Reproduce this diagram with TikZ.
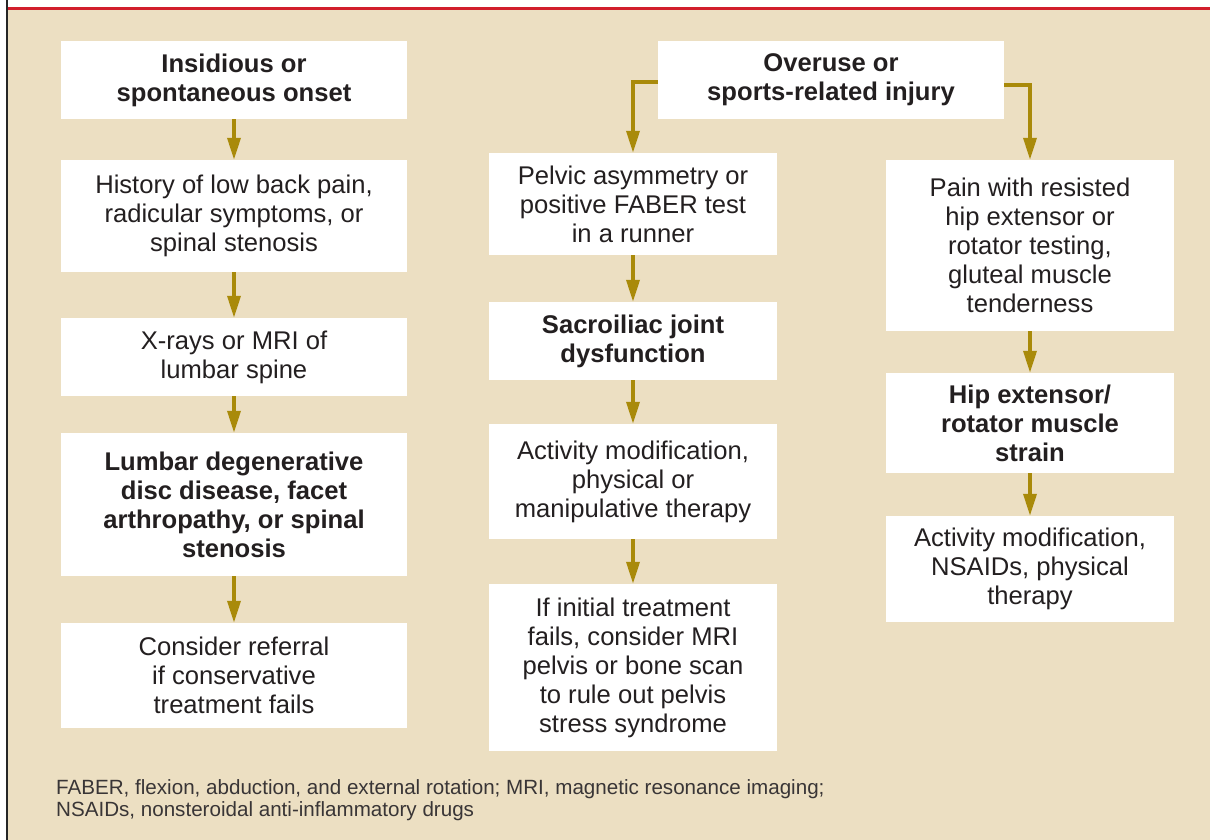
\documentclass[tikz,border=0pt]{standalone}
\usepackage{fontspec}
\setmainfont{Liberation Sans}
\usetikzlibrary{arrows.meta}
\definecolor{beige}{HTML}{ECDFC2}
\definecolor{gold}{HTML}{A98A0A}
\definecolor{redline}{HTML}{D21F2C}
\definecolor{ink}{HTML}{231F20}
\begin{document}
\begin{tikzpicture}[x=1pt,y=-1pt,
  box/.style={fill=white, draw=none, inner sep=0pt, align=center, text=ink,
    font=\fontsize{25.6}{29}\selectfont},
  bbox/.style={box, font=\fontsize{25.6}{29}\selectfont\bfseries},
  lcol/.style={minimum width=346pt},
  ncol/.style={minimum width=288pt},
  arr/.style={draw=gold, line width=3.5pt, -{Triangle[length=22pt,width=13pt]}}]
\useasboundingbox (0,0) rectangle (1210,840);
\fill[white] (0,0) rectangle (1210,840);
\fill[beige] (8,10) rectangle (1210,840);
\fill[redline] (8,7) rectangle (1210,10.5);
\fill[black!85] (5.5,0) rectangle (8,840);

% left column
\node[bbox, lcol, minimum height=78pt] (b1) at (234,80) {Insidious or\\spontaneous onset};
\node[box, lcol, minimum height=112pt] (b2) at (234,216) {History of low back pain,\\radicular symptoms, or\\spinal stenosis};
\node[box, lcol, minimum height=78pt] (b3) at (234,357) {X-rays or MRI of\\lumbar spine};
\node[bbox, lcol, minimum height=143pt] (b4) at (234,504.5) {Lumbar degenerative\\disc disease, facet\\arthropathy, or spinal\\stenosis};
\node[box, lcol, minimum height=105pt] (b5) at (234,675.5) {Consider referral\\if conservative\\treatment fails};

% top right
\node[bbox, lcol, minimum height=78pt] (o) at (831,80) {Overuse or\\sports-related injury};

% middle column
\node[box, ncol, minimum height=102pt] (m1) at (633,204) {Pelvic asymmetry or\\positive FABER test\\in a runner};
\node[bbox, ncol, minimum height=78pt] (m2) at (633,341) {Sacroiliac joint\\dysfunction};
\node[box, ncol, minimum height=115pt] (m3) at (633,481.5) {Activity modification,\\physical or\\manipulative therapy};
\node[box, ncol, minimum height=167pt] (m4) at (633,667.5) {If initial treatment\\fails, consider MRI\\pelvis or bone scan\\to rule out pelvis\\stress syndrome};

% right column
\node[box, ncol, minimum height=171pt] (r1) at (1030,245.5) {Pain with resisted\\hip extensor or\\rotator testing,\\gluteal muscle\\tenderness};
\node[bbox, ncol, minimum height=100pt] (r2) at (1030,423) {Hip extensor/\\rotator muscle\\strain};
\node[box, ncol, minimum height=106pt] (r3) at (1030,569) {Activity modification,\\NSAIDs, physical\\therapy};

% connectors
\draw[arr] (b1) -- (b2);
\draw[arr] (b2) -- (b3);
\draw[arr] (b3) -- (b4);
\draw[arr] (b4) -- (b5);
\draw[arr] ([yshift=-2pt]o.west) -| (m1.north);
\draw[arr] ([yshift=-5pt]o.east) -| (r1.north);
\draw[arr] (m1) -- (m2);
\draw[arr] (m2) -- (m3);
\draw[arr] (m3) -- (m4);
\draw[arr] (r1) -- (r2);
\draw[arr] (r2) -- (r3);

% footnote
\node[anchor=north west, inner sep=0pt, align=left, text=ink!90,
  font=\fontsize{20.6}{22}\selectfont] (fn) at (56,779)
  {FABER, flexion, abduction, and external rotation; MRI, magnetic resonance imaging;\\NSAIDs, nonsteroidal anti-inflammatory drugs};
\end{tikzpicture}
\end{document}
